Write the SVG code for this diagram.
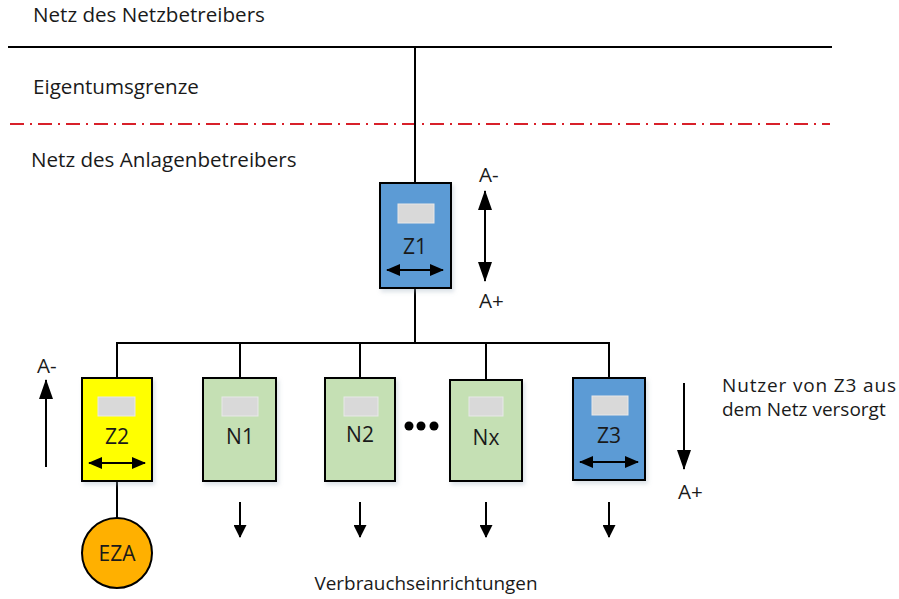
<svg xmlns="http://www.w3.org/2000/svg" width="899" height="599" viewBox="0 0 899 599">
<style>
  text { font-family: "Open Sans", "Noto Sans", "Liberation Sans", sans-serif; font-size: 20.6px; fill: #1a1a1a; }
  .lbl { text-anchor: middle; font-size: 21px; }
  .side { font-size: 19px; }
  .vb { text-anchor: middle; font-size: 18.9px; }
  .ln { stroke: #000; stroke-width: 2; fill: none; }
  .box { stroke: #000; stroke-width: 2; }
  .blue { fill: #5b9bd5; }
  .yellow { fill: #ffff00; }
  .green { fill: #c5e0b4; }
  .disp { fill: #d9d9d9; stroke: #e8e8e8; stroke-width: 1; }
  .arr { stroke: #000; stroke-width: 2; fill: none; }
</style>
<defs>
  <marker id="big" viewBox="0 0 20 14" refX="19" refY="7" markerWidth="20" markerHeight="14" markerUnits="userSpaceOnUse" orient="auto-start-reverse">
    <path d="M0,0 L20,7 L0,14 z" fill="#000"/>
  </marker>
  <marker id="med" viewBox="0 0 14 12" refX="13" refY="6" markerWidth="14" markerHeight="12" markerUnits="userSpaceOnUse" orient="auto-start-reverse">
    <path d="M0,0 L14,6 L0,12 z" fill="#000"/>
  </marker>
  <marker id="sm" viewBox="0 0 13 13" refX="12" refY="6.5" markerWidth="13" markerHeight="13" markerUnits="userSpaceOnUse" orient="auto-start-reverse">
    <path d="M0,0 L13,6.5 L0,13 z" fill="#000"/>
  </marker>
  <filter id="sh" x="-20%" y="-20%" width="140%" height="140%">
    <feDropShadow dx="2" dy="3" stdDeviation="2" flood-color="#9ab" flood-opacity="0.35"/>
  </filter>
</defs>

<g id="labels">
  <text x="33" y="22">Netz des Netzbetreibers</text>
  <text x="33" y="94">Eigentumsgrenze</text>
  <text x="31" y="167">Netz des Anlagenbetreibers</text>
  <text class="side" x="722" y="392" textLength="174">Nutzer von Z3 aus</text>
  <text class="side" x="722" y="416">dem Netz versorgt</text>
  <text class="vb" x="426" y="590">Verbrauchseinrichtungen</text>
</g>

<g id="grid-lines">
  <line class="ln" x1="8" y1="47" x2="832" y2="47"/>
  <line x1="10" y1="124" x2="830" y2="124" stroke="#d8202a" stroke-width="2" stroke-dasharray="14,6,2,6"/>
</g>

<g id="connectors">
  <line class="ln" x1="415" y1="47" x2="415" y2="183"/>
  <line class="ln" x1="415" y1="288" x2="415" y2="343"/>
  <polyline class="ln" points="117,378 117,343 609,343 609,378"/>
  <line class="ln" x1="240" y1="343" x2="240" y2="378"/>
  <line class="ln" x1="360" y1="343" x2="360" y2="378"/>
  <line class="ln" x1="486" y1="343" x2="486" y2="380"/>
  <line class="ln" x1="117" y1="481" x2="117" y2="518"/>
</g>

<g id="flow-arrows">
  <line class="arr" x1="485" y1="191" x2="485" y2="281" marker-start="url(#big)" marker-end="url(#big)"/>
  <text x="479" y="182">A-</text>
  <text x="479" y="308">A+</text>
  <line class="arr" x1="46" y1="467" x2="46" y2="380" marker-end="url(#big)"/>
  <text x="37" y="373">A-</text>
  <line class="arr" x1="684" y1="383" x2="684" y2="469" marker-end="url(#big)"/>
  <text x="678" y="499">A+</text>
  <line class="arr" x1="240" y1="502" x2="240" y2="537" marker-end="url(#sm)"/>
  <line class="arr" x1="360" y1="502" x2="360" y2="537" marker-end="url(#sm)"/>
  <line class="arr" x1="486" y1="502" x2="486" y2="537" marker-end="url(#sm)"/>
  <line class="arr" x1="609" y1="502" x2="609" y2="537" marker-end="url(#sm)"/>
</g>

<g id="Z1">
  <rect class="box blue" x="380" y="183" width="71" height="105" filter="url(#sh)"/>
  <rect class="disp" x="398" y="204" width="36" height="19"/>
  <text class="lbl" x="415" y="254">Z1</text>
  <line class="arr" x1="387" y1="270" x2="443" y2="270" marker-start="url(#med)" marker-end="url(#med)"/>
</g>

<g id="Z2">
  <rect class="box yellow" x="82" y="378" width="70" height="103" filter="url(#sh)"/>
  <rect class="disp" x="98" y="397" width="37" height="19"/>
  <text class="lbl" x="117" y="444">Z2</text>
  <line class="arr" x1="89" y1="463" x2="145" y2="463" marker-start="url(#med)" marker-end="url(#med)"/>
</g>

<g id="EZA">
  <circle cx="117" cy="553" r="35" fill="#ffb000" stroke="#000" stroke-width="2"/>
  <text class="lbl" x="117" y="561">EZA</text>
</g>

<g id="N1">
  <rect class="box green" x="203" y="378" width="73" height="103" filter="url(#sh)"/>
  <rect class="disp" x="222" y="397" width="36" height="19"/>
  <text class="lbl" x="240" y="444">N1</text>
</g>

<g id="N2">
  <rect class="box green" x="325" y="378" width="70" height="103" filter="url(#sh)"/>
  <rect class="disp" x="344" y="397" width="34" height="19"/>
  <text class="lbl" x="360" y="442">N2</text>
</g>

<g id="dots">
  <circle cx="409" cy="426" r="4.5" fill="#000"/>
  <circle cx="421" cy="426" r="4.5" fill="#000"/>
  <circle cx="434" cy="426" r="4.5" fill="#000"/>
</g>

<g id="Nx">
  <rect class="box green" x="450" y="380" width="72" height="101" filter="url(#sh)"/>
  <rect class="disp" x="469" y="397" width="34" height="19"/>
  <text class="lbl" x="486" y="445">Nx</text>
</g>

<g id="Z3">
  <rect class="box blue" x="573" y="378" width="72" height="102" filter="url(#sh)"/>
  <rect class="disp" x="592" y="396" width="36" height="19"/>
  <text class="lbl" x="609" y="443">Z3</text>
  <line class="arr" x1="580" y1="462" x2="638" y2="462" marker-start="url(#med)" marker-end="url(#med)"/>
</g>
</svg>
